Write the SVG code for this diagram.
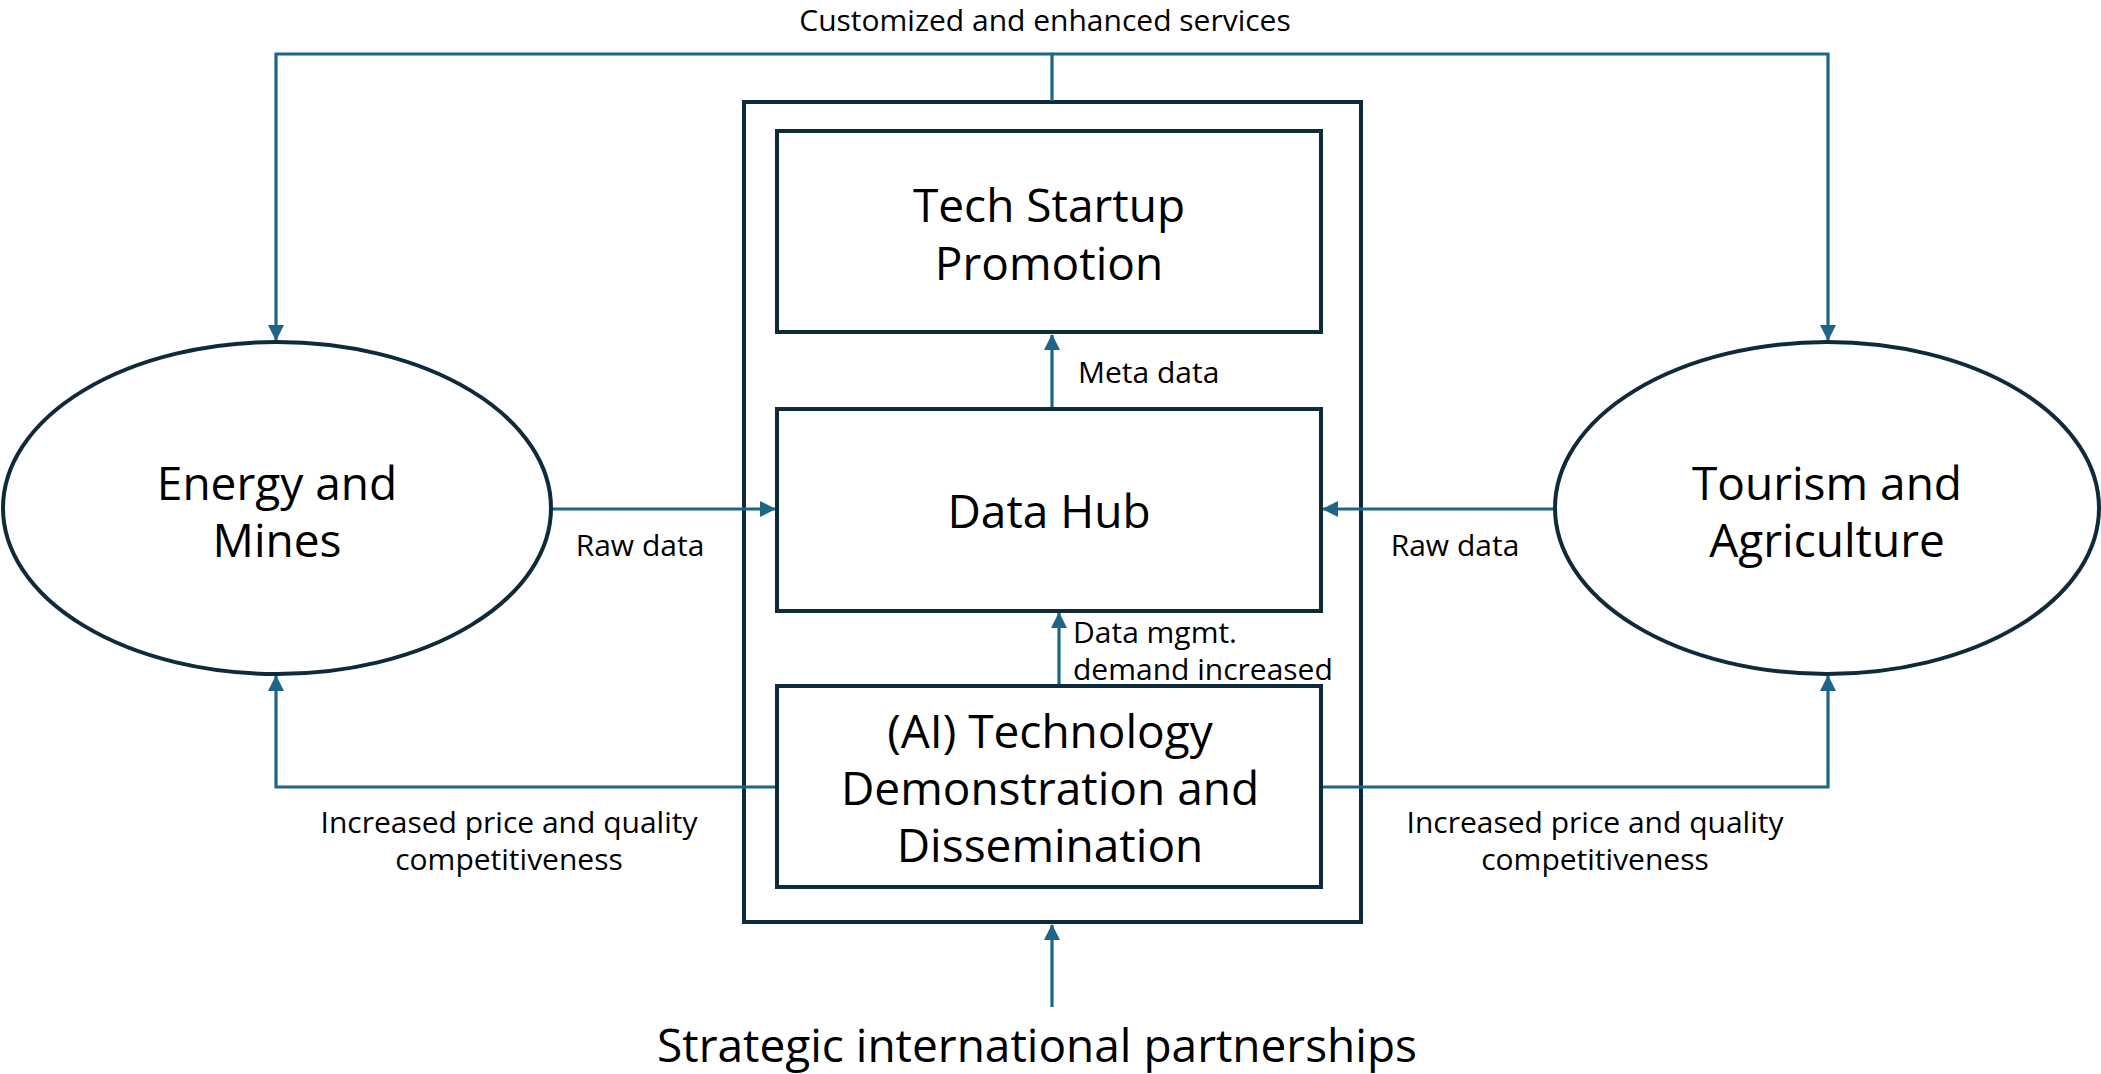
<svg xmlns="http://www.w3.org/2000/svg" width="2101" height="1074" viewBox="0 0 2101 1074">
<defs>
<style>
.box{fill:#ffffff;stroke:#0e2b3c;stroke-width:4}
.con{fill:none;stroke:#1d6688;stroke-width:3.2}
.node{font-family:"Open Sans","Noto Sans",sans-serif;font-size:46px;fill:#000;text-anchor:middle}
.lbl{font-family:"Open Sans","Noto Sans",sans-serif;font-size:30px;fill:#000}
.mid{text-anchor:middle}
</style>
<marker id="arr" markerUnits="userSpaceOnUse" markerWidth="16" markerHeight="16" refX="15" refY="8" orient="auto">
<path d="M0,0 L16,8 L0,16 z" fill="#1d6688"/>
</marker>
</defs>
<rect width="2101" height="1074" fill="#ffffff"/>

<g id="outer-box">
<rect class="box" x="744" y="102" width="617" height="820"/>
</g>

<g id="connectors">
<path class="con" d="M1052,101 V54 H276 V340" marker-end="url(#arr)"/>
<path class="con" d="M1052,54 H1828 V340" marker-end="url(#arr)"/>
<path class="con" d="M551,509 H775" marker-end="url(#arr)"/>
<path class="con" d="M1553,509 H1323" marker-end="url(#arr)"/>
<path class="con" d="M1052,409 V335" marker-end="url(#arr)"/>
<path class="con" d="M1059,686 V613" marker-end="url(#arr)"/>
<path class="con" d="M777,787 H276 V676" marker-end="url(#arr)"/>
<path class="con" d="M1321,787 H1828 V676" marker-end="url(#arr)"/>
<path class="con" d="M1052,1007 V925" marker-end="url(#arr)"/>
</g>

<g id="tech-startup">
<rect class="box" x="777" y="131" width="544" height="201"/>
<text class="node" x="1049" y="222">Tech Startup</text>
<text class="node" x="1049" y="280">Promotion</text>
</g>

<g id="data-hub">
<rect class="box" x="777" y="409" width="544" height="202"/>
<text class="node" x="1049" y="528">Data Hub</text>
</g>

<g id="ai-tech">
<rect class="box" x="777" y="686" width="544" height="201"/>
<text class="node" x="1050" y="748">(AI) Technology</text>
<text class="node" x="1050" y="805">Demonstration and</text>
<text class="node" x="1050" y="862">Dissemination</text>
</g>

<g id="energy-mines">
<ellipse class="box" cx="277" cy="508" rx="274" ry="166"/>
<text class="node" x="277" y="500">Energy and</text>
<text class="node" x="277" y="557">Mines</text>
</g>

<g id="tourism-agriculture">
<ellipse class="box" cx="1827" cy="508" rx="272" ry="166"/>
<text class="node" x="1827" y="500">Tourism and</text>
<text class="node" x="1827" y="557">Agriculture</text>
</g>

<g id="labels">
<text class="lbl mid" x="1045" y="31">Customized and enhanced services</text>
<text class="lbl mid" x="640" y="556">Raw data</text>
<text class="lbl mid" x="1455" y="556">Raw data</text>
<text class="lbl" x="1078" y="383">Meta data</text>
<text class="lbl" x="1073" y="643">Data mgmt.</text>
<text class="lbl" x="1073" y="680">demand increased</text>
<text class="lbl mid" x="509" y="833">Increased price and quality</text>
<text class="lbl mid" x="509" y="870">competitiveness</text>
<text class="lbl mid" x="1595" y="833">Increased price and quality</text>
<text class="lbl mid" x="1595" y="870">competitiveness</text>
</g>

<g id="strategic-partnerships">
<text class="node" x="1037" y="1062">Strategic international partnerships</text>
</g>
</svg>
